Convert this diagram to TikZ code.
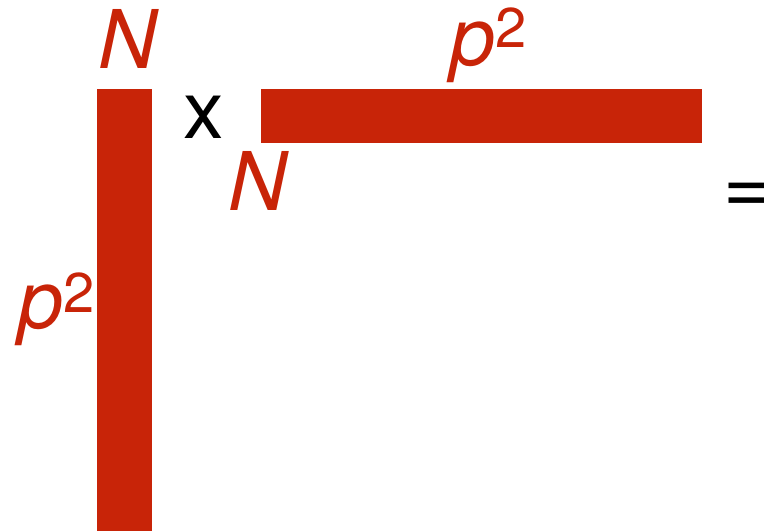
\documentclass[tikz,border=0pt]{standalone}
\usepackage{fontspec}
\setmainfont{TeX Gyre Heros}
\definecolor{barred}{RGB}{200,36,8}
\begin{document}
\begin{tikzpicture}[x=1pt,y=-1pt,
  bar/.style={fill=barred,draw=none,inner sep=0pt,outer sep=0pt},
  lbl/.style={text=barred,inner sep=0pt,anchor=base,font=\fontsize{81}{90}\selectfont\itshape},
  op/.style={text=black,inner sep=0pt,anchor=base,font=\fontsize{81}{90}\selectfont}]
\useasboundingbox (0,0) rectangle (764,531);
\node[bar,minimum width=55pt,minimum height=442pt] (vbar) at (124,310) {};
\node[bar,minimum width=441pt,minimum height=53.5pt] (hbar) at (481,115.75) {};
\node[lbl] (ntop) at (128,68) {N};
\node[op] (times) at (204,138) {x};
\node[lbl] (nbot) at (258,210) {N};
\node[lbl] (ptop) at (489,65) {p\raisebox{18pt}{\fontsize{56}{60}\selectfont\upshape 2}};
\node[lbl] (pleft) at (57,328) {p\raisebox{16pt}{\fontsize{56}{60}\selectfont\upshape 2}};
\node[op] (eq) at (747,213) {=};
\end{tikzpicture}
\end{document}
